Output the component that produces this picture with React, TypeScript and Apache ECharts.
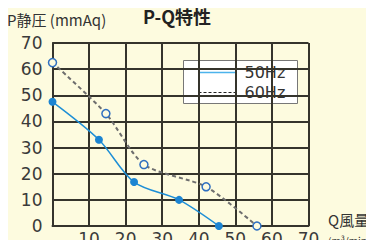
import React, { useEffect, useRef } from "react";
import * as echarts from "echarts";

const xTicks = [10, 20, 30, 40, 50, 60, 70];
const hz50 = [
  [0, 47.5],
  [12.7, 33],
  [22.3, 16.8],
  [34.6, 10],
  [45.5, 0],
];
const hz60 = [
  [0, 62.5],
  [14.6, 43],
  [25, 23.5],
  [42, 15],
  [55.9, 0],
];

export default function App() {
  const ref = useRef<HTMLDivElement>(null);
  useEffect(() => {
    const chart = echarts.init(ref.current!, null, { renderer: "svg" });
    const font = "DejaVu Sans";
    const gridColor = "#35342c";
    chart.setOption({
      animation: false,
      backgroundColor: "#fdfbdf",
      textStyle: { fontFamily: font },
      grid: { left: 52.5, right: 65.5, top: 43, bottom: 22 },
      xAxis: {
        type: "value",
        min: 0,
        max: 70,
        interval: 10,
        axisLine: { show: true, lineStyle: { color: gridColor, width: 2 } },
        axisTick: { show: false },
        splitLine: { show: true, lineStyle: { color: gridColor, width: 2 } },
        axisLabel: {
          color: "#3a3a3a",
          fontSize: 17,
          margin: 4,
          formatter: (v: number) => (xTicks.includes(v) ? String(v) : ""),
        },
      },
      yAxis: {
        type: "value",
        min: 0,
        max: 70,
        interval: 10,
        axisLine: { show: true, lineStyle: { color: gridColor, width: 2 } },
        axisTick: { show: false },
        splitLine: { show: true, lineStyle: { color: gridColor, width: 2 } },
        axisLabel: { color: "#3a3a3a", fontSize: 17, margin: 10 },
      },
      graphic: [
        { type: "rect", left: 0, top: 0, shape: { width: 374, height: 4 }, style: { fill: "#b8e4de" }, z: 10 },
        { type: "rect", left: 0, top: 0, shape: { width: 4, height: 248 }, style: { fill: "#a9dcd5" }, z: 10 },
        {
          type: "text",
          left: 143,
          top: 7,
          style: { text: "P-Q特性", font: "bold 18px 'Noto Sans CJK JP'", fill: "#222" },
        },
        {
          type: "text",
          left: 7,
          top: 12,
          style: { text: "P静圧 (mmAq)", font: "15px 'Noto Sans CJK JP'", fill: "#333" },
        },
        {
          type: "text",
          left: 328,
          top: 212,
          style: { text: "Q風量", font: "15px 'Noto Sans CJK JP'", fill: "#333" },
        },
        {
          type: "text",
          left: 328,
          top: 235,
          style: { text: "(m³/min)", font: "10px 'Noto Sans CJK JP'", fill: "#333" },
        },
        {
          type: "group",
          left: 183,
          top: 60,
          z: 20,
          children: [
            { type: "rect", shape: { x: 0, y: 0, width: 114, height: 43 }, style: { fill: "#fff", stroke: "#777", lineWidth: 1 } },
            { type: "line", shape: { x1: 15, y1: 12, x2: 52, y2: 12 }, style: { stroke: "#4db3ec", lineWidth: 1.5 } },
            { type: "line", shape: { x1: 15, y1: 32, x2: 52, y2: 32 }, style: { stroke: "#222", lineWidth: 1.2, lineDash: [3, 2] } },
            { type: "text", x: 61, y: 12, style: { text: "50Hz", font: `16px '${font}'`, fill: "#333", verticalAlign: "middle" } },
            { type: "text", x: 61, y: 32, style: { text: "60Hz", font: `16px '${font}'`, fill: "#333", verticalAlign: "middle" } },
          ],
        },
      ],
      series: [
        {
          name: "60Hz",
          type: "line",
          data: hz60,
          smooth: 0.25,
          symbol: "circle",
          symbolSize: 8,
          lineStyle: { color: "#6e6e6e", width: 2, type: [4, 3] },
          itemStyle: { color: "#fdfbdf", borderColor: "#2f6fc0", borderWidth: 1.5 },
          z: 3,
        },
        {
          name: "50Hz",
          type: "line",
          data: hz50,
          smooth: 0.3,
          symbol: "circle",
          symbolSize: 8,
          lineStyle: { color: "#1e8fd6", width: 1.5 },
          itemStyle: { color: "#1b84d2" },
          z: 4,
        },
      ],
    });
    return () => chart.dispose();
  }, []);
  return <div ref={ref} style={{ width: 374, height: 248, margin: -8 }} />;
}
